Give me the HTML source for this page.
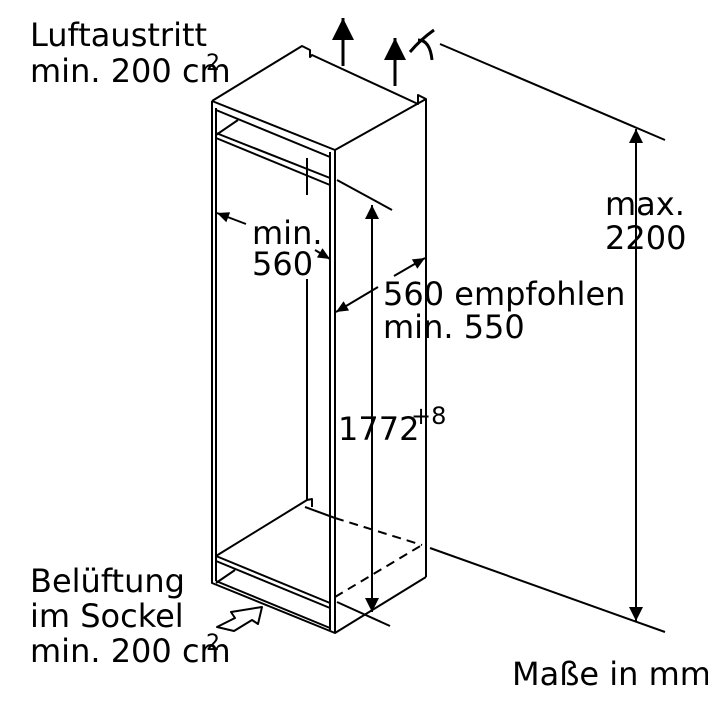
<!DOCTYPE html>
<html><head><meta charset="utf-8"><style>
html,body{margin:0;padding:0;background:#fff;}
svg{display:block;}
text{font-family:"DejaVu Sans","Liberation Sans",sans-serif;font-size:32px;fill:#000;}
</style></head><body>
<svg width="708" height="712" viewBox="0 0 708 712" xmlns="http://www.w3.org/2000/svg">
<defs>
<marker id="ah" viewBox="0 0 10 10" refX="10" refY="5" markerWidth="14" markerHeight="12" markerUnits="userSpaceOnUse" orient="auto"><path d="M0,0.5 L10,5 L0,9.5 z" fill="#000"/></marker>
<marker id="ahb" viewBox="0 0 10 10" refX="10" refY="5" markerWidth="20" markerHeight="14" markerUnits="userSpaceOnUse" orient="auto"><path d="M0,0 L10,5 L0,10 z" fill="#000"/></marker>
<marker id="ahx" viewBox="0 0 10 10" refX="10" refY="5" markerWidth="26" markerHeight="22" markerUnits="userSpaceOnUse" orient="auto"><path d="M0,0 L10,5 L0,10 z" fill="#000"/></marker>
</defs>
<g stroke="#000" stroke-width="2" fill="none" stroke-linejoin="round">
<path d="M212,101 L302,46 L310,50 L310,57 L312,55 L418,104 L418,95 L426,99 L426,577"/>
<path d="M212,101 L335,150 L426,99"/>
<path d="M212,101 L212,583 L335,633 L426,577"/>
<path d="M216,108 L216,581"/>
<path d="M330,152 L330,630"/>
<path d="M335,150 L335,633"/>
<path d="M216,110 L330,157 L330,178 L216,133"/>
<path d="M216,138 L330,185"/>
<path d="M216,135 L238,120"/>
<path d="M307,158 L307,195"/>
<path d="M307,279 L307,500"/>
<path d="M307,500 L312,499 L312,507"/>
<path d="M216,556 L307,500"/>
<path d="M305,507 L335,518"/>
<path d="M216,556 L330,603"/>
<path d="M216,561 L330,608"/>
<path d="M216,583 L235,570"/>
<path d="M216,581 L330,628"/>
<path d="M335,518 L422,545" stroke-dasharray="9,6"/>
<path d="M335,597 L422,545" stroke-dasharray="9,6"/>
<path d="M337,180 L392,210"/>
<path d="M337,602 L390,626"/>
<path d="M440,44 L665,140"/>
<path d="M430,548 L665,632"/>
<path d="M372,400 L372,205" marker-end="url(#ahb)"/>
<path d="M372,400 L372,612" marker-end="url(#ahb)"/>
<path d="M636,400 L636,129" marker-end="url(#ahb)"/>
<path d="M636,400 L636,621" marker-end="url(#ahb)"/>
<path d="M246,224 L217,213" marker-end="url(#ah)"/>
<path d="M315,250 L330,259" marker-end="url(#ah)"/>
<path d="M378,287 L336,312" marker-end="url(#ah)"/>
<path d="M394,276 L425,258" marker-end="url(#ah)"/>
<path d="M343,66 L343,18" stroke-width="3" marker-end="url(#ahx)"/>
<path d="M395,86 L395,38" stroke-width="3" marker-end="url(#ahx)"/>
<path d="M410,52 Q420,40 434,30" stroke-width="3"/>
<path d="M418,40 Q430,40 432,60" stroke-width="3"/>
<path d="M217,627 L235,618 L231,612 L262,607 L258,624 L252,620 L234,631 Z" stroke-width="2" fill="#fff"/>
</g>
<text x="30" y="46">Luftaustritt</text>
<text x="30" y="82">min. 200 cm</text>
<text x="206" y="70" style="font-size:22px">2</text>
<text x="252" y="244">min.</text>
<text x="252" y="275">560</text>
<text x="383" y="305">560 empfohlen</text>
<text x="383" y="338">min. 550</text>
<text x="605" y="215">max.</text>
<text x="605" y="249">2200</text>
<text x="338" y="440">1772</text>
<text x="411" y="424" style="font-size:24px">+8</text>
<text x="30" y="592">Belüftung</text>
<text x="30" y="627">im Sockel</text>
<text x="30" y="662">min. 200 cm</text>
<text x="206" y="650" style="font-size:22px">2</text>
<text x="512" y="685">Maße in mm</text>
</svg>
</body></html>
